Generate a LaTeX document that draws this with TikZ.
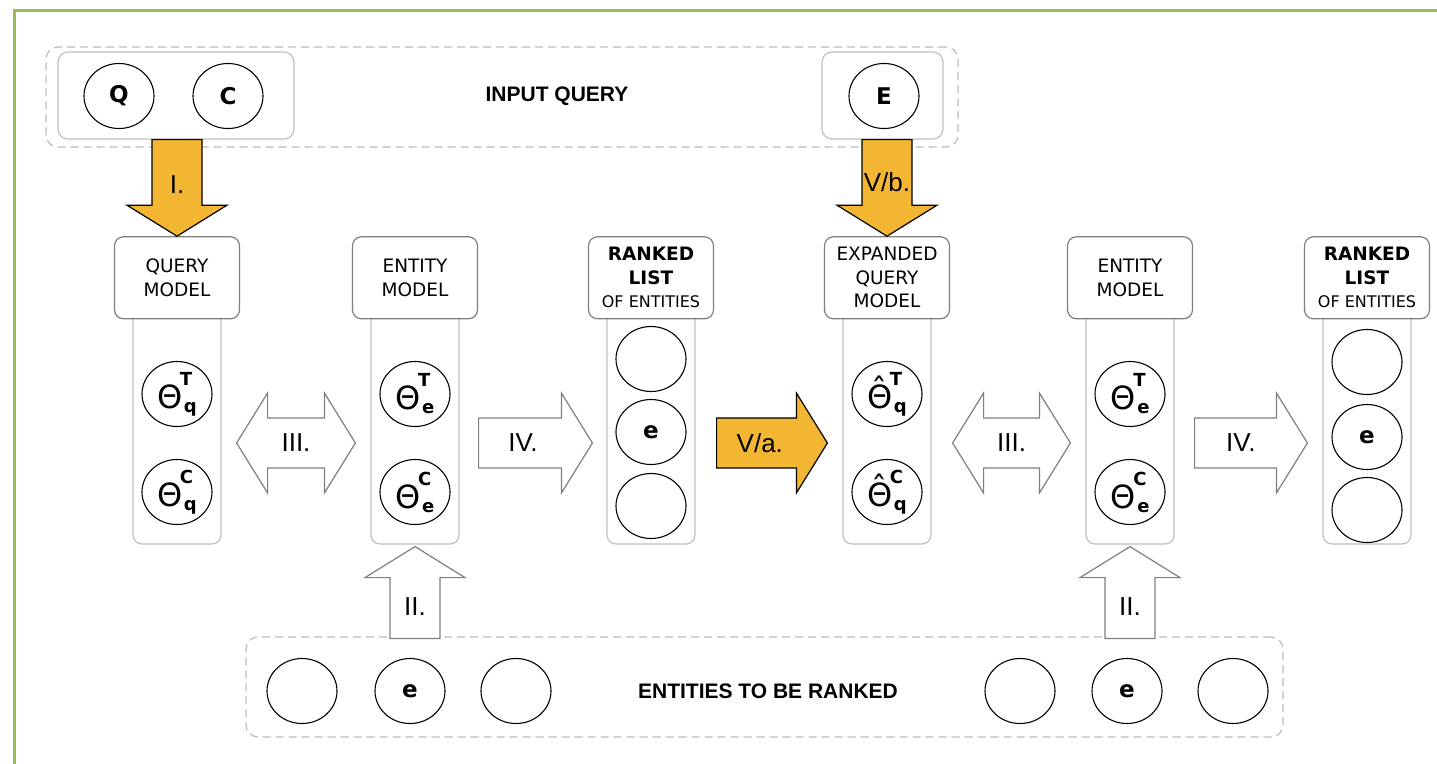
\documentclass[tikz,border=0pt]{standalone}
\usepackage{fontspec}
\setmainfont{DejaVu Sans}
\newfontfamily\arialf{Liberation Sans}
\usetikzlibrary{calc,shapes.geometric}

\definecolor{frameGreen}{HTML}{9BBB59}
\definecolor{boxGray}{HTML}{7F7F7F}
\definecolor{colGray}{HTML}{BFBFBF}
\definecolor{dashGray}{HTML}{BBBBBB}
\definecolor{arrowOrange}{HTML}{F3B632}
\definecolor{arrowGray}{HTML}{7F7F7F}

% parameter symbols: Theta with bold super- and subscript
\newcommand\scr[1]{{\fontsize{18}{18}\selectfont\bfseries #1}}
\newcommand\bigth{{\fontsize{32}{32}\selectfont Θ}}
\newcommand\hatth{{\fontsize{32}{32}\selectfont\ooalign{Θ\cr\hidewidth\raisebox{6.5pt}{ˆ}\hidewidth\cr}}}
\newcommand\thparam[3]{#1\kern-2.5pt\rlap{\raisebox{23pt}{\scr{#2}}}\kern4pt\raisebox{-4pt}{\scr{#3}}}

% single block arrow: style, tail, tip, label, label position (fraction tail->tip)
\newcommand\blockarrow[5]{%
  \coordinate (ba-h) at ($(#3)!31pt!(#2)$);
  \draw[#1] ($(#2)!25pt!90:(#3)$) -- ($(ba-h)!25pt!90:(#3)$) -- ($(ba-h)!50pt!90:(#3)$) -- (#3)
    -- ($(ba-h)!50pt!-90:(#3)$) -- ($(ba-h)!25pt!-90:(#3)$) -- ($(#2)!25pt!-90:(#3)$) -- cycle;
  \node[lbl] at ($(#2)!#5!(#3)$) {#4};
}
% double block arrow: style, end A, end B, label
\newcommand\dblarrow[4]{%
  \coordinate (da-a) at ($(#2)!31pt!(#3)$);
  \coordinate (da-b) at ($(#3)!31pt!(#2)$);
  \draw[#1] (#2) -- ($(da-a)!50pt!90:(#3)$) -- ($(da-a)!25pt!90:(#3)$) -- ($(da-b)!25pt!90:(#3)$)
    -- ($(da-b)!50pt!90:(#3)$) -- (#3) -- ($(da-b)!50pt!-90:(#3)$) -- ($(da-b)!25pt!-90:(#3)$)
    -- ($(da-a)!25pt!-90:(#3)$) -- ($(da-a)!50pt!-90:(#3)$) -- cycle;
  \node[lbl] at ($(#2)!0.5!(#3)$) {#4};
}

\begin{document}
\begin{tikzpicture}[x=1pt,y=-1pt,
  grp/.style={draw=dashGray, line width=1.2pt, dash pattern=on 8pt off 5pt, rounded corners=12pt, inner sep=0pt},
  inbox/.style={draw=colGray, line width=1.2pt, rounded corners=10pt, fill=white, inner sep=0pt},
  colbox/.style={draw=colGray, line width=1.2pt, rounded corners=9pt, fill=white, minimum width=88pt, minimum height=234pt, inner sep=0pt},
  hdr/.style={draw=boxGray, line width=1.2pt, rounded corners=9pt, fill=white, minimum width=125pt, minimum height=82pt, inner sep=0pt, align=center, font=\fontsize{18.5}{23.5}\selectfont},
  ell/.style={ellipse, draw=black, line width=1.1pt, minimum width=70pt, minimum height=65pt, inner sep=0pt, font=\fontsize{23}{23}\selectfont\bfseries},
  par/.style={ell, font=\fontsize{32}{32}\selectfont},
  title/.style={font=\arialf\bfseries\fontsize{21}{21}\selectfont},
  lbl/.style={font=\arialf\fontsize{26}{26}\selectfont},
  orangearrow/.style={draw=black, line width=1.2pt, fill=arrowOrange, line join=miter},
  grayarrow/.style={draw=arrowGray, line width=1.2pt, fill=white, line join=miter}]
\useasboundingbox (0,0) rectangle (1437,763);
\clip (0,0) rectangle (1437,763);

% outer frame
\draw[frameGreen, line width=2.6pt] (14.5,900) -- (14.5,10.5) -- (1500,10.5);

% input query group
\node[grp, minimum width=912pt, minimum height=100pt] (topgrp) at (502,97) {};
\node[inbox, minimum width=236pt, minimum height=87pt] (qcbox) at (176,95.5) {};
\node[inbox, minimum width=121pt, minimum height=87pt] (ebox) at (882.5,95.5) {};
\node[ell] (Q) at (119,96) {Q};
\node[ell] (C) at (228,96) {C};
\node[ell] (E) at (884,96) {E};
\node[title] (inq) at (557,96) {INPUT QUERY};

% entities group
\node[grp, minimum width=1037pt, minimum height=100pt] (botgrp) at (764.5,687) {};
\node[ell] (b1) at (302,691) {};
\node[ell] (b2) at (410,691) {e};
\node[ell] (b3) at (516,691) {};
\node[ell] (b4) at (1020,691) {};
\node[ell] (b5) at (1127,691) {e};
\node[ell] (b6) at (1233,691) {};
\node[title] (etr) at (768,691) {ENTITIES TO BE RANKED};

% model columns
\node[colbox] (col1) at (177,427) {};
\node[colbox] (col2) at (415,427) {};
\node[colbox] (col3) at (651,427) {};
\node[colbox] (col4) at (887,427) {};
\node[colbox] (col5) at (1130,427) {};
\node[colbox] (col6) at (1367,427) {};

\node[hdr, anchor=south] (h1) at ($(col1.north)+(0,10)$) {QUERY\\MODEL};
\node[hdr, anchor=south] (h2) at ($(col2.north)+(0,10)$) {ENTITY\\MODEL};
\node[hdr, anchor=south] (h3) at ($(col3.north)+(0,10)$) {\textbf{RANKED}\\\textbf{LIST}\\{\fontsize{16}{19}\selectfont OF ENTITIES}};
\node[hdr, anchor=south] (h4) at ($(col4.north)+(0,10)$) {EXPANDED\\QUERY\\MODEL};
\node[hdr, anchor=south] (h5) at ($(col5.north)+(0,10)$) {ENTITY\\MODEL};
\node[hdr, anchor=south] (h6) at ($(col6.north)+(0,10)$) {\textbf{RANKED}\\\textbf{LIST}\\{\fontsize{16}{19}\selectfont OF ENTITIES}};

% parameters inside the columns
\node[par] (qT) at (177,394) {\thparam{\bigth}{T}{q}};
\node[par] (qC) at (177,492) {\thparam{\bigth}{C}{q}};
\node[par] (eT) at (415,394) {\thparam{\bigth}{T}{e}};
\node[par] (eC) at (415,492) {\thparam{\bigth}{C}{e}};
\node[ell] (r1) at (651,359) {};
\node[ell] (r2) at (651,432) {e};
\node[ell] (r3) at (651,506) {};
\node[par] (xqT) at (887,394) {\thparam{\hatth}{T}{q}};
\node[par] (xqC) at (887,492) {\thparam{\hatth}{C}{q}};
\node[par] (e2T) at (1130,394) {\thparam{\bigth}{T}{e}};
\node[par] (e2C) at (1130,492) {\thparam{\bigth}{C}{e}};
\node[ell] (s1) at (1367,362) {};
\node[ell] (s2) at (1367,437) {e};
\node[ell] (s3) at (1367,510) {};

% arrow end points
\coordinate (row) at (0,443);
\coordinate (aIt) at (qcbox.south -| h1.north);
\coordinate (aIh) at (h1.north);
\coordinate (aVbt) at (ebox.south -| h4.north);
\coordinate (aVbh) at (h4.north);
\coordinate (aIIt) at ($(botgrp.north -| col2.south)+(0,2)$);
\coordinate (aIIh) at ($(col2.south)+(0,2)$);
\coordinate (bIIt) at ($(botgrp.north -| col5.south)+(0,2)$);
\coordinate (bIIh) at ($(col5.south)+(0,2)$);
\coordinate (a3a) at ($(col1.east |- row)+(15,0)$);
\coordinate (a3b) at ($(col2.west |- row)+(-15,0)$);
\coordinate (a4a) at ($(col2.east |- row)+(19,0)$);
\coordinate (a4b) at ($(col3.west |- row)+(-14,0)$);
\coordinate (a5a) at ($(col3.east |- row)+(21,0)$);
\coordinate (a5b) at ($(col4.west |- row)+(-15,0)$);
\coordinate (a6a) at ($(col4.east |- row)+(21,0)$);
\coordinate (a6b) at ($(col5.west |- row)+(-15,0)$);
\coordinate (a7a) at ($(col5.east |- row)+(20,0)$);
\coordinate (a7b) at ($(col6.west |- row)+(-15,0)$);

% process steps
\blockarrow{orangearrow}{aIt}{aIh}{I.}{0.47}
\blockarrow{orangearrow}{aVbt}{aVbh}{V/b.}{0.44}
\blockarrow{grayarrow}{aIIt}{aIIh}{II.}{0.35}
\blockarrow{grayarrow}{bIIt}{bIIh}{II.}{0.35}
\dblarrow{grayarrow}{a3a}{a3b}{III.}
\blockarrow{grayarrow}{a4a}{a4b}{IV.}{0.39}
\blockarrow{orangearrow}{a5a}{a5b}{V/a.}{0.39}
\dblarrow{grayarrow}{a6a}{a6b}{III.}
\blockarrow{grayarrow}{a7a}{a7b}{IV.}{0.41}
\end{tikzpicture}
\end{document}
